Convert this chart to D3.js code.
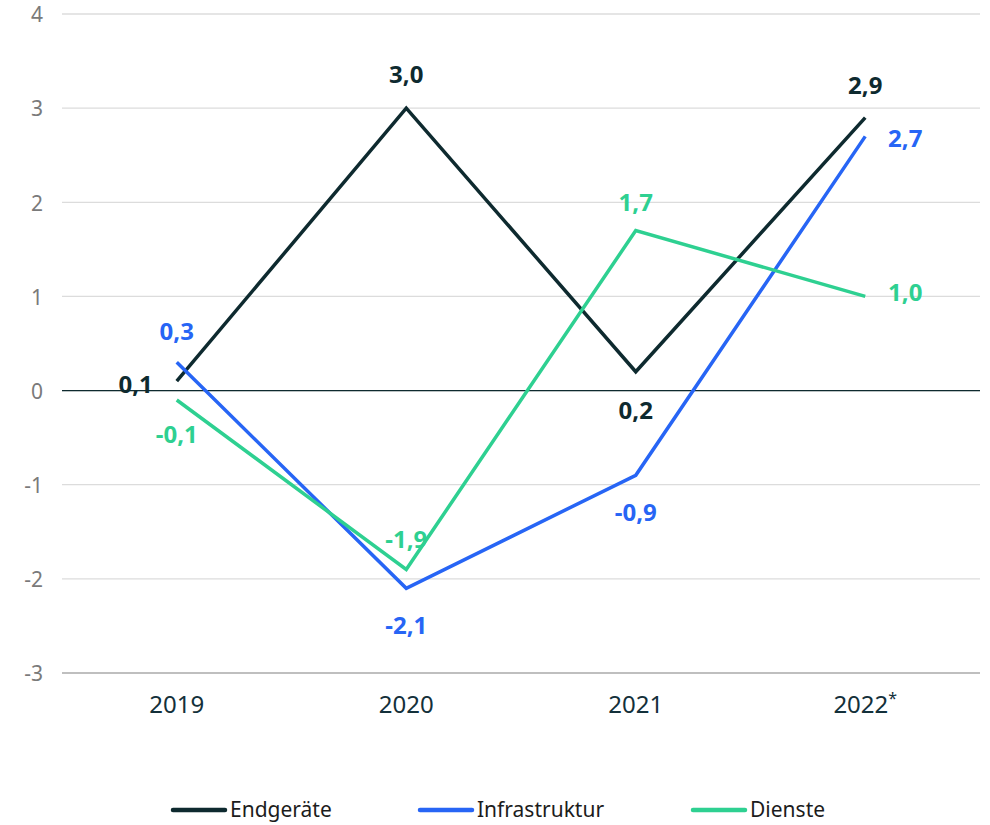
<!DOCTYPE html>
<html><head><meta charset="utf-8">
<script src="https://cdn.jsdelivr.net/npm/d3@7"></script>
<style>body{margin:0;background:#fff;}svg{display:block;font-family:"Noto Sans",sans-serif;}</style>
</head><body><svg id="c" width="990" height="825"></svg>
<script>
const categories = ["2019","2020","2021","2022*"];
const seriesNames = ["Endgeräte","Infrastruktur","Dienste"];
const endgeraete = [0.1, 3.0, 0.2, 2.9];
const infrastruktur = [0.3, -2.1, -0.9, 2.7];
const dienste = [-0.1, -1.9, 1.7, 1.0];
const yTicks = [-3,-2,-1,0,1,2,3,4];
const colors = ["#0e2a2f","#2765f5","#2ed091"];
// label offsets (dx, dy, anchor) relative to point
const labelOffsets = [
  [[-24,3,"end"],[0,-34,"middle"],[0,38,"middle"],[0,-33,"middle"]],
  [[0,-31,"middle"],[0,37,"middle"],[0,37,"middle"],[40,2,"middle"]],
  [[0,34,"middle"],[0,-30,"middle"],[0,-29,"middle"],[40,-4,"middle"]]
];
const series = [endgeraete, infrastruktur, dienste];
const svg = d3.select("#c");
const mLeft = 62, mRight = 980, mTop = 14, mBottom = 673;
const x = d3.scaleBand().domain(categories).range([mLeft, mRight]);
const y = d3.scaleLinear().domain([-3,4]).range([mBottom, mTop]);
const fmt = v => d3.format(".1f")(v).replace(".", ",").replace("−","-");

// grid
svg.append("g").selectAll("line").data(yTicks).join("line")
  .attr("x1", mLeft).attr("x2", mRight)
  .attr("y1", d => y(d)).attr("y2", d => y(d))
  .attr("stroke", d => d === -3 ? "#aaaaaa" : "#dcdcdc").attr("stroke-width", 1.3);
svg.append("line").attr("x1", mLeft).attr("x2", mRight).attr("y1", y(0)).attr("y2", y(0))
  .attr("stroke", "#0e2a2f").attr("stroke-width", 1.3);

// y axis labels
const yAxis = d3.axisLeft(y).tickValues(yTicks).tickSize(0).tickPadding(0).tickFormat(d => d3.format("d")(d).replace("−","-"));
const ya = svg.append("g").attr("transform", `translate(${mLeft-19},1)`).call(yAxis);
ya.select(".domain").remove();
ya.selectAll("text").attr("fill", "#7a7a7a").style("font-size", "21px").style("font-family", '"Noto Sans",sans-serif');

// x axis labels
const xAxis = d3.axisBottom(x).tickSize(0).tickPadding(0);
const xa = svg.append("g").attr("transform", `translate(0,${mBottom})`).call(xAxis);
xa.select(".domain").remove();
xa.selectAll("text").attr("y", 40).attr("dy", 0).attr("fill", "#13303a").style("font-size", "24px").style("font-family", '"Noto Sans",sans-serif')
  .each(function(d) {
    const t = d3.select(this);
    if (d.endsWith("*")) {
      t.text(null);
      t.append("tspan").text(d.slice(0, -1));
      t.append("tspan").attr("dy", -9).style("font-size", "16px").text("*");
    }
  });

// lines
const line = d3.line().x((d,i) => x(categories[i]) + x.bandwidth()/2).y(d => y(d));
series.forEach((s, k) => {
  svg.append("path").datum(s).attr("d", line).attr("fill", "none")
    .attr("stroke", colors[k]).attr("stroke-width", 3.5).attr("stroke-linejoin", "miter");
});
// labels
series.forEach((s, k) => {
  svg.append("g").selectAll("text").data(s).join("text")
    .attr("x", (d,i) => x(categories[i]) + x.bandwidth()/2 + labelOffsets[k][i][0])
    .attr("y", (d,i) => y(d) + labelOffsets[k][i][1] + 9)
    .attr("text-anchor", (d,i) => labelOffsets[k][i][2])
    .attr("fill", colors[k]).style("font-size", "24px").style("font-weight", "700")
    .text(d => fmt(d));
});

// legend
const legX = [173, 420, 693];
const lg = svg.append("g");
seriesNames.forEach((n, k) => {
  lg.append("line").attr("x1", legX[k]).attr("x2", legX[k] + 52).attr("y1", 810).attr("y2", 810)
    .attr("stroke", colors[k]).attr("stroke-width", 4.5).attr("stroke-linecap", "round");
  lg.append("text").attr("x", legX[k] + 57).attr("y", 817)
    .attr("fill", "#1c1c1c").style("font-size", "21px").text(n);
});
</script></body></html>
